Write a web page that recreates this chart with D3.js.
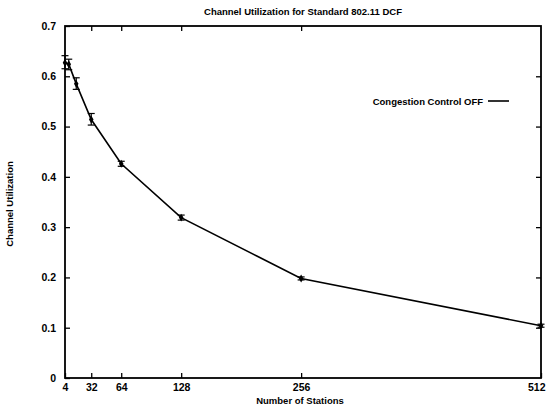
<!DOCTYPE html>
<html>
<head>
<meta charset="utf-8">
<script src="https://cdn.jsdelivr.net/npm/d3@7"></script>
<style>
  html, body { margin: 0; padding: 0; background: #fff; }
  svg { display: block; }
  text { font-family: "Liberation Sans", Arial, sans-serif; fill: #000; }
</style>
</head>
<body>
<svg id="chart" width="547" height="405"></svg>
<script>
// Channel utilization vs. number of stations (802.11 DCF, congestion control off)
const stations    = [4, 8, 16, 32, 64, 128, 256, 512];
const utilization = [0.627, 0.624, 0.585, 0.514, 0.426, 0.319, 0.198, 0.104];
const errLow      = [0.615, 0.613, 0.574, 0.503, 0.421, 0.314, 0.195, 0.101];
const errHigh     = [0.641, 0.634, 0.597, 0.526, 0.431, 0.324, 0.201, 0.107];

const xTickValues = [4, 32, 64, 128, 256, 512];
const yTickValues = [0, 0.1, 0.2, 0.3, 0.4, 0.5, 0.6, 0.7];

const titleText  = "Channel Utilization for Standard 802.11 DCF";
const xLabelText = "Number of Stations";
const yLabelText = "Channel Utilization";
const legendText = "Congestion Control OFF";

const svg = d3.select("#chart");
const margin = { left: 65, right: 6, top: 26, bottom: 27 };
const W = 547, H = 405;
const plotW = W - margin.left - margin.right;
const plotH = H - margin.top - margin.bottom;

const x = d3.scaleLinear().domain([4, 512]).range([margin.left, margin.left + plotW]);
const y = d3.scaleLinear().domain([0, 0.7]).range([margin.top + plotH, margin.top]);

const tickLen = 5;
const fmtY = d => d === 0 ? "0" : d3.format(".1f")(d);

// Bottom axis with inward ticks
const xAxisBottom = d3.axisBottom(x).tickValues(xTickValues).tickSizeInner(-tickLen).tickSizeOuter(0).tickPadding(6);
const gxb = svg.append("g").attr("transform", `translate(0,${margin.top + plotH})`).call(xAxisBottom);
// Top axis, ticks only
const xAxisTop = d3.axisTop(x).tickValues(xTickValues.slice(1, -1)).tickSizeInner(-tickLen).tickSizeOuter(0).tickFormat("");
const gxt = svg.append("g").attr("transform", `translate(0,${margin.top})`).call(xAxisTop);
// Left axis
const yAxisLeft = d3.axisLeft(y).tickValues(yTickValues).tickSizeInner(-tickLen).tickSizeOuter(0).tickPadding(9).tickFormat(fmtY);
const gyl = svg.append("g").attr("transform", `translate(${margin.left},0)`).call(yAxisLeft);
// Right axis, ticks only
const yAxisRight = d3.axisRight(y).tickValues(yTickValues.slice(1, -1)).tickSizeInner(-tickLen).tickSizeOuter(0).tickFormat("");
const gyr = svg.append("g").attr("transform", `translate(${margin.left + plotW},0)`).call(yAxisRight);

[gxb, gxt, gyl, gyr].forEach(g => {
  g.select(".domain").remove();
  g.selectAll(".tick line").attr("stroke", "#000").attr("stroke-width", 1.3);
  g.selectAll(".tick text")
    .attr("font-size", 10.5)
    .attr("font-weight", "bold")
    .attr("font-family", "Liberation Sans, Arial, sans-serif")
    .attr("fill", "#000");
});
// Last x label sits against the right edge
gxb.selectAll(".tick text").filter(d => d === 512).attr("text-anchor", "end").attr("dx", "4");

// Frame
svg.append("rect")
  .attr("x", margin.left).attr("y", margin.top)
  .attr("width", plotW).attr("height", plotH)
  .attr("fill", "none").attr("stroke", "#000").attr("stroke-width", 1.8);

const data = stations.map((s, i) => ({ s, u: utilization[i], lo: errLow[i], hi: errHigh[i] }));

// Curve
svg.append("path")
  .datum(data)
  .attr("fill", "none")
  .attr("stroke", "#000")
  .attr("stroke-width", 1.6)
  .attr("d", d3.line().x(d => x(d.s)).y(d => y(d.u)));

// Error bars
const capW = 3.5;
const eb = svg.append("g").attr("stroke", "#000").attr("stroke-width", 1.2);
data.forEach(d => {
  const cx = x(d.s);
  eb.append("line").attr("x1", cx).attr("x2", cx).attr("y1", y(d.lo)).attr("y2", y(d.hi));
  eb.append("line").attr("x1", cx - capW).attr("x2", cx + capW).attr("y1", y(d.lo)).attr("y2", y(d.lo));
  eb.append("line").attr("x1", cx - capW).attr("x2", cx + capW).attr("y1", y(d.hi)).attr("y2", y(d.hi));
});

// Point markers
svg.append("g").selectAll("path.marker")
  .data(data)
  .join("path")
  .attr("class", "marker")
  .attr("transform", d => `translate(${x(d.s)},${y(d.u)})`)
  .attr("d", d3.symbol().type(d3.symbolDiamond).size(18))
  .attr("fill", "#000");

// Title
svg.append("text")
  .attr("x", margin.left + plotW / 2).attr("y", 15)
  .attr("text-anchor", "middle")
  .attr("font-size", 9.5).attr("font-weight", "bold")
  .text(titleText);

// X label
svg.append("text")
  .attr("x", margin.left + plotW / 2 - 3).attr("y", 404)
  .attr("text-anchor", "middle")
  .attr("font-size", 9.5).attr("font-weight", "bold")
  .text(xLabelText);

// Y label
svg.append("text")
  .attr("transform", `translate(13,${margin.top + plotH / 2 + 2}) rotate(-90)`)
  .attr("text-anchor", "middle")
  .attr("font-size", 9.5).attr("font-weight", "bold")
  .text(yLabelText);

// Legend
const legY = 101;
svg.append("text")
  .attr("x", 483).attr("y", legY + 3.5)
  .attr("text-anchor", "end")
  .attr("font-size", 9.5).attr("font-weight", "bold")
  .text(legendText);
svg.append("line")
  .attr("x1", 488).attr("x2", 509).attr("y1", legY).attr("y2", legY)
  .attr("stroke", "#000").attr("stroke-width", 1.6);
</script>
</body>
</html>
